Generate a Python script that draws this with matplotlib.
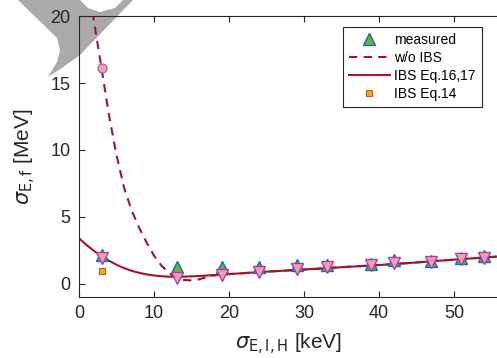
import numpy as np
import matplotlib
matplotlib.use("Agg")
import matplotlib.pyplot as plt
from matplotlib.patches import Polygon

plt.rcParams['font.family'] = ['Liberation Sans', 'DejaVu Sans']
plt.rcParams['mathtext.fontset'] = 'dejavusans'

# measured points and IBS model values at the same energy spreads
x_meas = [3, 13, 19, 24, 29, 33, 39, 42, 47, 51, 54]
measured = [2.16, 1.25, 1.25, 1.25, 1.4, 1.4, 1.5, 1.8, 1.7, 1.92, 2.05]
ibs_pts = [1.96, 0.42, 0.67, 0.87, 1.1, 1.22, 1.42, 1.54, 1.66, 1.84, 1.96]

# single points at 3 keV
x_noibs_pt = [3]
noibs_pt = [16.1]
x_eq14 = [3]
eq14 = [0.99]

# curves
x_curve = [0, 1, 2, 3, 4, 5, 6, 7, 8, 9, 10, 11, 12, 13, 14, 16, 18, 20,
           24, 28, 32, 36, 40, 44, 48, 52, 56]
ibs_curve = [3.4, 2.9, 2.45, 2.05, 1.72, 1.42, 1.17, 0.97, 0.82, 0.7, 0.62,
             0.56, 0.53, 0.52, 0.53, 0.58, 0.65, 0.72, 0.87, 1.0, 1.13, 1.27,
             1.4, 1.55, 1.72, 1.88, 2.04]
x_noibs = [1.8, 2.4, 3, 4, 5, 6, 7, 8, 9, 10, 11, 12, 13, 14, 15, 16, 17, 18,
           19, 20, 24, 28, 32, 36, 40, 44, 48, 52, 56]
noibs_curve = [20.3, 18.2, 16.1, 12.6, 9.6, 7.2, 5.5, 4.2, 3.1, 2.1, 1.35,
               0.8, 0.45, 0.28, 0.25, 0.33, 0.5, 0.62, 0.68, 0.72, 0.87, 1.0,
               1.13, 1.27, 1.4, 1.55, 1.72, 1.88, 2.04]

red = '#a2142f'

fig = plt.figure(figsize=(4.97, 3.58), dpi=100)
ax = fig.add_axes([0.159, 0.170, 0.845, 0.785])
ax.set_facecolor('none')

# gray blob in the top-left corner (pixel coords, y from top)
blob = [(18, 0), (80, 0), (88, 8), (100, 12), (115, 8), (123, 0), (133, 0),
        (80, 55), (62, 68), (48, 77), (57, 62), (60, 50), (57, 38)]
blob = [(px, 358 - py) for px, py in blob]
fig.patches.append(Polygon(blob, closed=True, transform=None,
                           facecolor='#aaaaaa', edgecolor='none', zorder=-1))

ax.plot(x_noibs, noibs_curve, '--', color=red, lw=1.5, dashes=(4, 3),
        label='w/o IBS', zorder=2)
ax.plot(x_curve, ibs_curve, '-', color=red, lw=1.5,
        label='IBS Eq.16,17', zorder=2)
ax.plot(x_meas, measured, '^', ms=9, mfc='#77ac30', mec='#0072bd', mew=1.0,
        ls='none', label='measured', zorder=3)
ax.plot(x_meas, ibs_pts, 'v', ms=8, mfc='#ff9aa8', mec='#a040b0', mew=1.0,
        ls='none', zorder=4)
ax.plot(x_noibs_pt, noibs_pt, 'o', ms=6.5, mfc='#ff9aa8', mec='#8060c0',
        mew=0.8, ls='none', zorder=4)
ax.plot(x_eq14, eq14, 's', ms=5, mfc='#edb120', mec='#d95319', mew=0.8,
        ls='none', label='IBS Eq.14', zorder=4)

ax.set_xlim(0, 56)
ax.set_ylim(-1, 20)
ax.set_xticks(np.arange(0, 51, 10))
ax.set_yticks(np.arange(0, 21, 5))
ax.tick_params(direction='in', top=True, right=False, labelsize=13,
               length=4, width=0.8, colors='#262626', pad=6)
for s in ['left', 'top', 'bottom']:
    ax.spines[s].set_color('#262626')
    ax.spines[s].set_linewidth(0.8)
ax.spines['right'].set_visible(False)

ax.set_ylabel(r'$\sigma_{\rm E,f}$ [MeV]', fontsize=15, color='#262626',
              labelpad=9)
ax.set_xlabel(r'$\sigma_{\rm E,I,H}$ [keV]', fontsize=15, color='#262626',
              labelpad=7)

h, l = ax.get_legend_handles_labels()
order = [2, 0, 1, 3]
leg = ax.legend([h[i] for i in order], [l[i] for i in order],
                loc='upper right', bbox_to_anchor=(0.975, 0.985),
                fontsize=10, frameon=True, fancybox=False, framealpha=1,
                edgecolor='#262626', handlelength=3.0, handletextpad=0.3,
                labelspacing=0.3, borderpad=0.4)
leg.get_frame().set_linewidth(0.8)

fig.savefig('out.png', dpi=100)
